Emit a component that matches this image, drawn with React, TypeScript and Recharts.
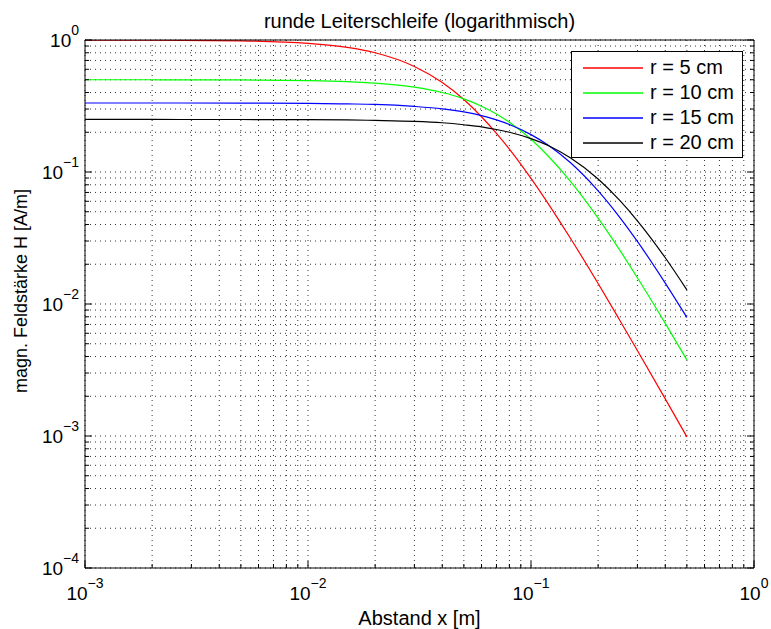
import React from "react";
import { LineChart, Line, XAxis, YAxis, CartesianGrid, Legend } from "recharts";

const FONT = "'Liberation Sans', Arial, Helvetica, sans-serif";

// Abstand x [m]
const xValues = [0.001, 0.002, 0.005, 0.01, 0.015, 0.02, 0.03, 0.04, 0.05, 0.06, 0.07, 0.08, 0.1, 0.12, 0.15, 0.2, 0.25, 0.3, 0.4, 0.5];
// H [A/m] per loop radius
const r5cm = [0.999, 0.998, 0.985, 0.943, 0.879, 0.8, 0.63, 0.476, 0.354, 0.262, 0.196, 0.149, 0.0894, 0.0569, 0.0316, 0.0143, 0.00754, 0.00444, 0.00191, 0.000985];
const r10cm = [0.5, 0.4997, 0.498, 0.493, 0.484, 0.471, 0.439, 0.4, 0.358, 0.315, 0.275, 0.238, 0.177, 0.131, 0.0853, 0.0447, 0.0256, 0.0158, 0.00713, 0.00377];
const r15cm = [0.3333, 0.3332, 0.3328, 0.331, 0.328, 0.325, 0.314, 0.301, 0.285, 0.267, 0.248, 0.229, 0.192, 0.159, 0.118, 0.072, 0.0454, 0.0298, 0.0144, 0.00791];
const r20cm = [0.25, 0.25, 0.2498, 0.249, 0.248, 0.246, 0.242, 0.236, 0.228, 0.22, 0.21, 0.2, 0.179, 0.158, 0.128, 0.0884, 0.0609, 0.0427, 0.0224, 0.0128];

const xTicks = [
  0.001, 0.002, 0.003, 0.004, 0.005, 0.006, 0.007, 0.008, 0.009,
  0.01, 0.02, 0.03, 0.04, 0.05, 0.06, 0.07, 0.08, 0.09,
  0.1, 0.2, 0.3, 0.4, 0.5, 0.6, 0.7, 0.8, 0.9,
  1,
];
const yTicks = [
  0.0001, 0.0002, 0.0003, 0.0004, 0.0005, 0.0006, 0.0007, 0.0008, 0.0009,
  0.001, 0.002, 0.003, 0.004, 0.005, 0.006, 0.007, 0.008, 0.009,
  0.01, 0.02, 0.03, 0.04, 0.05, 0.06, 0.07, 0.08, 0.09,
  0.1, 0.2, 0.3, 0.4, 0.5, 0.6, 0.7, 0.8, 0.9,
  1,
];

const series = [
  { key: "r5", name: "r = 5 cm", color: "#ff0000", values: r5cm },
  { key: "r10", name: "r = 10 cm", color: "#00ff00", values: r10cm },
  { key: "r15", name: "r = 15 cm", color: "#0000ff", values: r15cm },
  { key: "r20", name: "r = 20 cm", color: "#000000", values: r20cm },
];

const data = xValues.map((x, i) => {
  const row: Record<string, number> = { x };
  series.forEach((s) => (row[s.key] = s.values[i]));
  return row;
});

const MAJOR = 7;
const MINOR = 4;

const decade = (v: number) => {
  const e = Math.log10(v);
  return Math.abs(e - Math.round(e)) < 1e-6 ? Math.round(e) : null;
};

const expText = (e: number) => (e < 0 ? "\u2212" + Math.abs(e) : String(e));

const BottomTick = (props: any) => {
  const { x, y, payload } = props;
  const e = decade(payload.value);
  return (
    <g>
      <line x1={x} x2={x} y1={y} y2={y - (e !== null ? MAJOR : MINOR)} stroke="#000" />
      {e !== null && (
        <text x={x} y={y + 32} textAnchor="middle" fontFamily={FONT} fontSize={19} fill="#000">
          10<tspan dy={-12} fontSize={14}>{expText(e)}</tspan>
        </text>
      )}
    </g>
  );
};

const TopTick = (props: any) => {
  const { x, y, payload } = props;
  const e = decade(payload.value);
  return <line x1={x} x2={x} y1={y} y2={y + (e !== null ? MAJOR : MINOR)} stroke="#000" />;
};

const LeftTick = (props: any) => {
  const { x, y, payload } = props;
  const e = decade(payload.value);
  return (
    <g>
      <line x1={x} x2={x + (e !== null ? MAJOR : MINOR)} y1={y} y2={y} stroke="#000" />
      {e !== null && (
        <text x={x - 6} y={y + 7} textAnchor="end" fontFamily={FONT} fontSize={19} fill="#000">
          10<tspan dy={-12} fontSize={14}>{expText(e)}</tspan>
        </text>
      )}
    </g>
  );
};

const RightTick = (props: any) => {
  const { x, y, payload } = props;
  const e = decade(payload.value);
  return <line x1={x} x2={x - (e !== null ? MAJOR : MINOR)} y1={y} y2={y} stroke="#000" />;
};

// legend drawn in series order, colours taken from the series list
const LegendBox = () => (
  <div
    style={{
      boxSizing: "border-box",
      width: 172,
      height: 107,
      border: "1px solid #000",
      background: "#fff",
      fontFamily: FONT,
      fontSize: 20,
      paddingTop: 3,
      color: "#000",
    }}
  >
    {series.map((s) => (
      <div key={s.key} style={{ display: "flex", alignItems: "center", height: 25 }}>
        <svg width={60} height={4} style={{ marginLeft: 11, marginRight: 7, display: "block" }}>
          <line x1={0} x2={60} y1={2} y2={2} stroke={s.color} strokeWidth={1.3} />
        </svg>
        <span style={{ lineHeight: "25px" }}>{s.name}</span>
      </div>
    ))}
  </div>
);

export default function App() {
  return (
    <div style={{ position: "absolute", left: 0, top: 0, background: "#fff" }}>
      <LineChart width={771} height={629} data={data} margin={{ top: 39, right: 16, bottom: 60, left: 84 }}>
        <CartesianGrid stroke="#333" strokeDasharray="1 4" strokeWidth={1} />
        <XAxis
          dataKey="x"
          type="number"
          scale="log"
          domain={[0.001, 1]}
          allowDataOverflow
          ticks={xTicks}
          interval={0}
          height={1}
          tickSize={0}
          tickMargin={0}
          tick={<BottomTick />}
          axisLine={{ stroke: "#000" }}
          tickLine={false}
          label={() => (
            <text x={419.5} y={625} textAnchor="middle" fontFamily={FONT} fontSize={20} fill="#000">
              Abstand x [m]
            </text>
          )}
        />
        <XAxis
          xAxisId="top"
          orientation="top"
          type="number"
          scale="log"
          domain={[0.001, 1]}
          allowDataOverflow
          ticks={xTicks}
          interval={0}
          height={1}
          tickSize={0}
          tickMargin={0}
          tick={<TopTick />}
          axisLine={{ stroke: "#000" }}
          tickLine={false}
          label={() => (
            <text x={419.5} y={28} textAnchor="middle" fontFamily={FONT} fontSize={20} fill="#000">
              runde Leiterschleife (logarithmisch)
            </text>
          )}
        />
        <YAxis
          type="number"
          scale="log"
          domain={[0.0001, 1]}
          allowDataOverflow
          ticks={yTicks}
          interval={0}
          width={1}
          tickSize={0}
          tickMargin={0}
          tick={<LeftTick />}
          axisLine={{ stroke: "#000" }}
          tickLine={false}
          label={() => (
            <text
              x={27}
              y={291}
              transform="rotate(-90 27 291)"
              textAnchor="middle"
              fontFamily={FONT}
              fontSize={18}
              fill="#000"
            >
              magn. Feldstärke H [A/m]
            </text>
          )}
        />
        <YAxis
          yAxisId="right"
          orientation="right"
          type="number"
          scale="log"
          domain={[0.0001, 1]}
          allowDataOverflow
          ticks={yTicks}
          interval={0}
          width={1}
          tickSize={0}
          tickMargin={0}
          tick={<RightTick />}
          axisLine={{ stroke: "#000" }}
          tickLine={false}
        />
        {series.map((s) => (
          <Line
            key={s.key}
            dataKey={s.key}
            name={s.name}
            stroke={s.color}
            strokeWidth={1.2}
            type="monotone"
            dot={false}
            activeDot={false}
            isAnimationActive={false}
          />
        ))}
        <Legend
          layout="horizontal"
          align="center"
          verticalAlign="middle"
          wrapperStyle={{ top: 51, left: 571, width: 172, height: 107 }}
          content={<LegendBox />}
        />
      </LineChart>
    </div>
  );
}
